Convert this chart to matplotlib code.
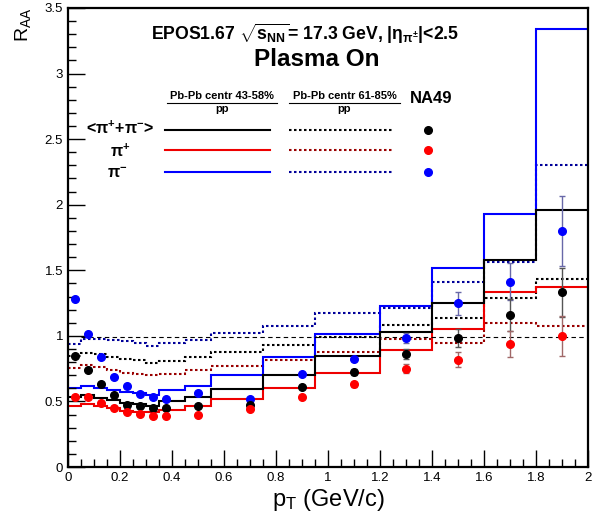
import numpy as np
import matplotlib.pyplot as plt
from matplotlib.ticker import MultipleLocator

plt.rcParams["font.family"] = ["Liberation Sans", "DejaVu Sans"]
plt.rcParams["mathtext.fontset"] = "custom"
plt.rcParams["mathtext.rm"] = "Liberation Sans"
plt.rcParams["mathtext.it"] = "Liberation Sans:italic"
plt.rcParams["mathtext.bf"] = "Liberation Sans:bold"

# --- EPOS histograms (bin edges in pT) ---
edges = [0, 0.05, 0.1, 0.15, 0.2, 0.25, 0.3, 0.35, 0.45, 0.55, 0.75, 0.95, 1.2, 1.4, 1.6, 1.8, 2.0]

blue_43 = [0.60, 0.615, 0.605, 0.59, 0.575, 0.562, 0.55, 0.59, 0.618, 0.70, 0.835, 1.015, 1.23, 1.52, 1.93, 3.34]
black_43 = [0.535, 0.55, 0.525, 0.51, 0.49, 0.478, 0.466, 0.50, 0.53, 0.597, 0.70, 0.848, 1.033, 1.25, 1.575, 1.957]
red_43 = [0.466, 0.481, 0.468, 0.448, 0.43, 0.422, 0.417, 0.437, 0.465, 0.52, 0.605, 0.72, 0.893, 1.053, 1.336, 1.374]

blue_61 = [0.935, 0.977, 0.975, 0.968, 0.957, 0.944, 0.926, 0.948, 0.97, 1.023, 1.076, 1.173, 1.216, 1.407, 1.565, 2.30]
black_61 = [0.85, 0.87, 0.858, 0.84, 0.82, 0.815, 0.795, 0.806, 0.838, 0.88, 0.928, 0.995, 1.079, 1.135, 1.285, 1.435]
red_61 = [0.758, 0.779, 0.765, 0.742, 0.715, 0.708, 0.702, 0.708, 0.742, 0.768, 0.815, 0.875, 0.978, 0.946, 1.10, 1.075]

ref_level = 0.993

# --- NA49 data ---
pt_na49 = [0.025, 0.075, 0.125, 0.175, 0.225, 0.275, 0.325, 0.375, 0.5, 0.7, 0.9, 1.1, 1.3, 1.5, 1.7, 1.9]
blue_na49 = [1.28, 1.015, 0.835, 0.69, 0.62, 0.557, 0.532, 0.522, 0.562, 0.519, 0.71, 0.822, 0.985, 1.247, 1.412, 1.80]
black_na49 = [0.85, 0.74, 0.634, 0.55, 0.473, 0.466, 0.453, 0.448, 0.466, 0.473, 0.613, 0.725, 0.862, 0.985, 1.158, 1.331]
red_na49 = [0.532, 0.532, 0.491, 0.453, 0.417, 0.402, 0.389, 0.389, 0.397, 0.445, 0.537, 0.631, 0.748, 0.817, 0.939, 0.998]
blue_err = [0, 0, 0, 0, 0, 0, 0, 0, 0, 0, 0.01, 0.015, 0.04, 0.085, 0.14, 0.27]
black_err = [0, 0, 0, 0, 0, 0, 0, 0, 0, 0, 0.01, 0.02, 0.04, 0.07, 0.12, 0.19]
red_err = [0, 0, 0, 0, 0, 0, 0, 0, 0, 0, 0.01, 0.02, 0.035, 0.057, 0.10, 0.15]

fig = plt.figure(figsize=(5.92, 5.14), dpi=100)
ax = fig.add_axes([68 / 592, 47 / 514, 520 / 592, 459 / 514])

dot = (0, (1.2, 1.2))
ax.hlines(ref_level, 0.05, 2.0, colors="black", lw=0.8, linestyles=(0, (4, 3)))
ax.stairs(red_61, edges, baseline=None, color="#990000", lw=1.5, ls=dot)
ax.stairs(black_61, edges, baseline=None, color="black", lw=1.5, ls=dot)
ax.stairs(blue_61, edges, baseline=None, color="#000099", lw=1.5, ls=dot)
ax.stairs(blue_43, edges, baseline=None, color="#0000ff", lw=1.5)
ax.stairs(red_43, edges, baseline=None, color="#ee0000", lw=1.5)
ax.stairs(black_43, edges, baseline=None, color="black", lw=1.5)

for vals, err, col, ecol in [(blue_na49, blue_err, "#0000ff", "#6868a8"),
                             (black_na49, black_err, "black", "#555555"),
                             (red_na49, red_err, "#ff0000", "#a06868")]:
    ax.errorbar(pt_na49, vals, yerr=err, fmt="o", color=col, ecolor=ecol,
                ms=5.5, elinewidth=1, capsize=2, capthick=1, zorder=5)

ax.set_xlim(0, 2)
ax.set_ylim(0, 3.5)
ax.xaxis.set_major_locator(MultipleLocator(0.2))
ax.xaxis.set_minor_locator(MultipleLocator(0.05))
ax.yaxis.set_major_locator(MultipleLocator(0.5))
ax.yaxis.set_minor_locator(MultipleLocator(0.1))
ax.xaxis.set_major_formatter(lambda v, p: f"{v:g}")
ax.yaxis.set_major_formatter(lambda v, p: f"{v:g}")
ax.tick_params(which="both", direction="in", top=False, right=False, labelsize=9.5)
ax.tick_params(which="major", length=12, width=1)
ax.tick_params(which="minor", length=6, width=1)
for s in ax.spines.values():
    s.set_linewidth(1.6)

ax.set_xlabel(r"p$_{\rm T}$ (GeV/c)", fontsize=17, va="top")
ax.xaxis.set_label_coords(0.5, -0.043)
ax.set_ylabel(r"R$_{\rm AA}$", fontsize=14, loc="top")
ax.yaxis.set_label_coords(-0.068, 1.0)

# header texts
ax.text(0.912, 3.30, r"EPOS1.67 $\mathbf{\sqrt{s_{NN}}}$= 17.3 GeV, |$\mathbf{\eta_{\pi^{\pm}}}$|<2.5",
        ha="center", va="center", fontsize=12.7, fontweight="bold")
ax.text(0.957, 3.107, "Plasma On", ha="center", va="center", fontsize=17.5, fontweight="bold")

ax.text(0.592, 2.832, "Pb-Pb centr 43-58%", ha="center", va="center", fontsize=8, fontweight="bold")
ax.plot([0.379, 0.805], [2.776, 2.776], color="black", lw=0.8)
ax.text(0.592, 2.73, "pp", ha="center", va="center", fontsize=8, fontweight="bold")
ax.text(1.063, 2.832, "Pb-Pb centr 61-85%", ha="center", va="center", fontsize=8, fontweight="bold")
ax.plot([0.85, 1.277], [2.776, 2.776], color="black", lw=0.8)
ax.text(1.063, 2.73, "pp", ha="center", va="center", fontsize=8, fontweight="bold")
ax.text(1.395, 2.81, "NA49", ha="center", va="center", fontsize=12, fontweight="bold")

rows = [(r"<$\mathbf{\pi^{+}}$+$\mathbf{\pi^{-}}$>", 0.202, 2.585, "black", "black", 2.573),
        (r"$\mathbf{\pi^{+}}$", 0.20, 2.407, "#ee0000", "#990000", 2.415),
        (r"$\mathbf{\pi^{-}}$", 0.19, 2.24, "#0000ff", "#000099", 2.25)]
marker_cols = ["black", "#ff0000", "#0000ff"]
for (label, lx, ly, c_solid, c_dot, y), mc in zip(rows, marker_cols):
    ax.text(lx, ly, label, ha="center", va="center", fontsize=11.5, fontweight="bold")
    ax.plot([0.374, 0.777], [y, y], color=c_solid, lw=1.5)
    ax.plot([0.851, 1.249], [y, y], color=c_dot, lw=1.5, ls=dot)
    ax.plot([1.385], [y], "o", color=mc, ms=5.5)

fig.savefig("out.png", dpi=100)
